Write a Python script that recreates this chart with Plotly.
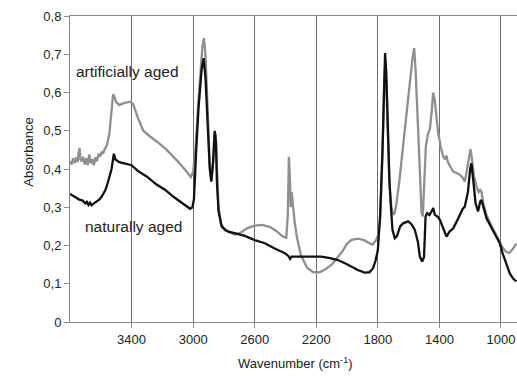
import plotly.graph_objects as go

# Wavenumber (cm-1) and absorbance for the artificially aged sample (grey)
art_wn = [3800, 3790, 3780, 3770, 3760, 3750, 3745, 3738, 3732, 3725, 3715, 3705, 3695, 3685, 3675,
          3665, 3655, 3645, 3635, 3625, 3615, 3605, 3595, 3585, 3575, 3560, 3545, 3530, 3520, 3512,
          3500, 3480, 3450, 3410, 3390, 3360, 3324, 3280, 3230, 3172, 3100, 3040, 3015, 3000,
          2985, 2970, 2955, 2940, 2930, 2920, 2905, 2892, 2882, 2870, 2860, 2853, 2845, 2835,
          2820, 2800, 2770, 2730, 2690, 2650, 2600, 2550, 2500, 2460, 2420, 2395, 2385, 2378,
          2372, 2366, 2360, 2352, 2340, 2325, 2300, 2260, 2220, 2180, 2140, 2100, 2060, 2030,
          2000, 1970, 1930, 1890, 1860, 1835, 1810, 1795, 1785, 1770, 1760, 1753, 1745, 1735,
          1725, 1712, 1700, 1690, 1679, 1660, 1636, 1610, 1592, 1575, 1564, 1555, 1538, 1525,
          1516, 1508, 1500, 1488, 1475, 1462, 1450, 1441, 1432, 1420, 1408, 1390, 1376, 1365,
          1355, 1345, 1330, 1311, 1290, 1268, 1250, 1235, 1220, 1205, 1198, 1190, 1175, 1159,
          1145, 1135, 1127, 1115, 1094, 1060, 1030, 1008, 990, 970, 947, 925, 900]
art_abs = [0.420, 0.412, 0.428, 0.415, 0.430, 0.418, 0.440, 0.455, 0.425, 0.420, 0.432, 0.412, 0.428, 0.410, 0.438,
           0.415, 0.426, 0.410, 0.430, 0.420, 0.440, 0.432, 0.445, 0.440, 0.452, 0.462, 0.490, 0.550, 0.595, 0.590,
           0.575, 0.567, 0.572, 0.576, 0.570, 0.535, 0.500, 0.485, 0.470, 0.450, 0.420, 0.392, 0.379, 0.392,
           0.450, 0.550, 0.650, 0.720, 0.742, 0.700, 0.550, 0.410, 0.370, 0.420, 0.490, 0.492, 0.400, 0.300,
           0.258, 0.245, 0.236, 0.229, 0.234, 0.245, 0.252, 0.254, 0.248, 0.238, 0.224, 0.220, 0.280, 0.432,
           0.380, 0.300, 0.340, 0.300, 0.260, 0.220, 0.175, 0.142, 0.130, 0.130, 0.138, 0.150, 0.170, 0.185,
           0.205, 0.215, 0.218, 0.214, 0.207, 0.202, 0.215, 0.232, 0.270, 0.430, 0.600, 0.670, 0.620, 0.480,
           0.360, 0.300, 0.280, 0.285, 0.310, 0.370, 0.460, 0.560, 0.634, 0.690, 0.716, 0.660, 0.500, 0.360,
           0.285, 0.276, 0.350, 0.460, 0.490, 0.505, 0.550, 0.600, 0.585, 0.530, 0.494, 0.455, 0.433, 0.425,
           0.435, 0.418, 0.405, 0.393, 0.390, 0.385, 0.378, 0.367, 0.400, 0.445, 0.452, 0.430, 0.380, 0.354,
           0.340, 0.345, 0.341, 0.310, 0.280, 0.250, 0.225, 0.206, 0.195, 0.185, 0.180, 0.190, 0.205]

# Naturally aged sample (black)
nat_wn = [3800, 3780, 3760, 3740, 3720, 3700, 3690, 3680, 3670, 3660, 3645, 3630, 3610, 3594, 3570,
          3550, 3530, 3515, 3505, 3480, 3440, 3400, 3360, 3300, 3240, 3183, 3130, 3075, 3040, 3020,
          3005, 2995, 2980, 2965, 2945, 2932, 2920, 2905, 2892, 2882, 2870, 2860, 2852, 2845, 2835,
          2815, 2790, 2770, 2720, 2664, 2600, 2534, 2470, 2404, 2380, 2370, 2360, 2300, 2230, 2168,
          2110, 2060, 2010, 1973, 1930, 1887, 1855, 1832, 1815, 1800, 1785, 1770, 1760, 1753, 1745,
          1735, 1725, 1715, 1705, 1690, 1675, 1655, 1636, 1603, 1580, 1560, 1540, 1527, 1512, 1500,
          1490, 1480, 1465, 1450, 1440, 1430, 1410, 1397, 1375, 1354, 1335, 1310, 1285, 1268, 1250,
          1235, 1215, 1200, 1192, 1180, 1165, 1149, 1135, 1127, 1115, 1094, 1060, 1030, 1008, 990,
          970, 943, 920, 900]
nat_abs = [0.335, 0.330, 0.326, 0.320, 0.318, 0.310, 0.314, 0.306, 0.312, 0.305, 0.310, 0.315, 0.320, 0.328, 0.345,
           0.370, 0.400, 0.440, 0.425, 0.418, 0.413, 0.410, 0.395, 0.380, 0.360, 0.346, 0.328, 0.311, 0.300, 0.296,
           0.300, 0.320, 0.450, 0.560, 0.660, 0.690, 0.640, 0.500, 0.400, 0.367, 0.420, 0.500, 0.470, 0.360, 0.290,
           0.250, 0.240, 0.236, 0.230, 0.225, 0.214, 0.206, 0.192, 0.180, 0.172, 0.165, 0.171, 0.171, 0.171, 0.171,
           0.167, 0.162, 0.153, 0.145, 0.136, 0.129, 0.130, 0.140, 0.160, 0.188, 0.280, 0.450, 0.620, 0.703, 0.650,
           0.500, 0.372, 0.300, 0.241, 0.219, 0.225, 0.250, 0.258, 0.263, 0.255, 0.241, 0.210, 0.171, 0.158, 0.170,
           0.276, 0.285, 0.280, 0.290, 0.298, 0.280, 0.275, 0.267, 0.245, 0.223, 0.236, 0.245, 0.265, 0.280, 0.295,
           0.302, 0.340, 0.400, 0.415, 0.370, 0.310, 0.289, 0.315, 0.319, 0.300, 0.271, 0.245, 0.222, 0.206, 0.180,
           0.155, 0.127, 0.113, 0.106]

x_ticks = [3400, 3000, 2600, 2200, 1800, 1400, 1000]
x_tick_labels = ["3400", "3000", "2600", "2200", "1800", "1400", "1000"]
y_ticks = [0, 0.1, 0.2, 0.3, 0.4, 0.5, 0.6, 0.7, 0.8]
y_tick_labels = ["0", "0,1", "0,2", "0,3", "0,4", "0,5", "0,6", "0,7", "0,8"]

fig = go.Figure()
fig.add_trace(go.Scatter(x=art_wn, y=art_abs, mode="lines",
                         line=dict(color="#8f8f8f", width=2.3), showlegend=False))
fig.add_trace(go.Scatter(x=nat_wn, y=nat_abs, mode="lines",
                         line=dict(color="#111111", width=2.3), showlegend=False))

font = "Liberation Sans, Arial, sans-serif"
fig.update_layout(
    width=517, height=376,
    margin=dict(l=70, r=0, t=16, b=54),
    paper_bgcolor="white", plot_bgcolor="white",
    font=dict(family=font, size=13, color="#222222"),
    xaxis=dict(range=[3800, 896], tickvals=x_ticks, ticktext=x_tick_labels,
               showgrid=True, gridcolor="#6e6e6e", gridwidth=1,
               showline=True, linecolor="#8a8a8a", linewidth=1, mirror=True,
               ticks="outside", ticklen=5, tickcolor="#8a8a8a",
               zeroline=False, tickfont=dict(size=13)),
    yaxis=dict(range=[0, 0.8], tickvals=y_ticks, ticktext=y_tick_labels,
               showgrid=False, showline=True, linecolor="#8a8a8a", linewidth=1,
               ticks="outside", ticklen=5, tickcolor="#8a8a8a",
               zeroline=False, tickfont=dict(size=13)),
    annotations=[
        dict(text="Absorbance", xref="paper", yref="paper", x=-0.092, y=0.556,
             textangle=-90, showarrow=False, font=dict(size=13), xanchor="center", yanchor="middle"),
        dict(text="Wavenumber (cm<sup>-1</sup>)", xref="paper", yref="paper", x=0.505, y=-0.135,
             showarrow=False, font=dict(size=13), xanchor="center", yanchor="middle"),
        dict(text="artificially aged", xref="paper", yref="paper", x=0.009, y=0.817,
             showarrow=False, font=dict(size=15.5), xanchor="left", yanchor="middle"),
        dict(text="naturally aged", xref="paper", yref="paper", x=0.028, y=0.311,
             showarrow=False, font=dict(size=15.5), xanchor="left", yanchor="middle"),
    ],
)

fig.write_html("out.html")
